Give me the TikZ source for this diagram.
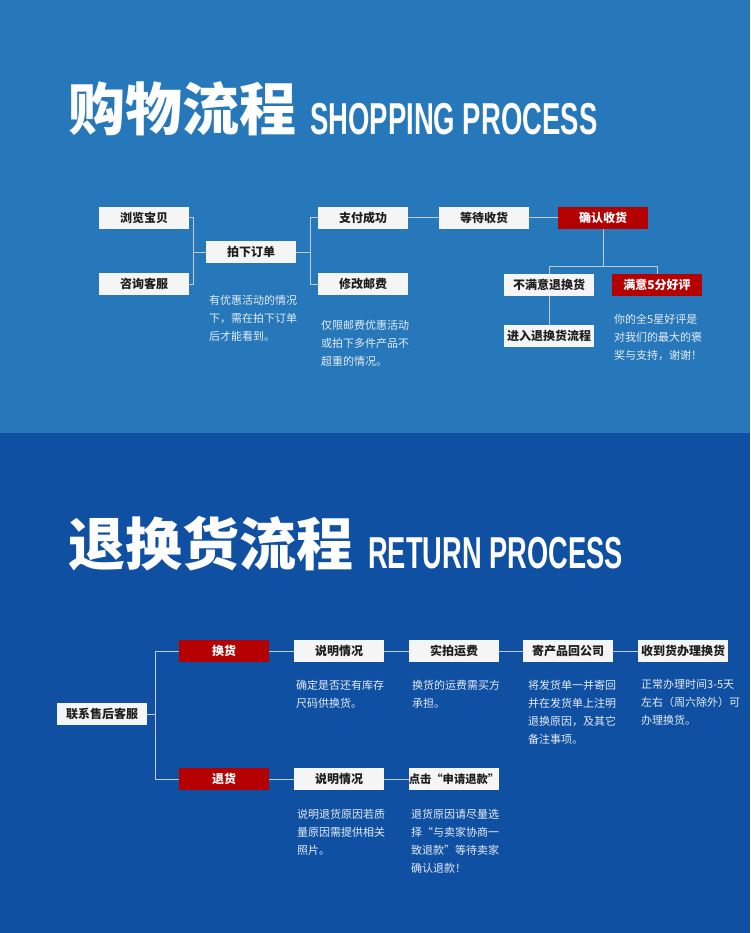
\documentclass[tikz,border=0pt]{standalone}
\usepackage{graphicx}
\usepackage{fontspec}
\newfontfamily\cjk{Noto Sans CJK SC}
\newfontfamily\lat{Liberation Sans}
\definecolor{topblue}{HTML}{2678BA}
\definecolor{botblue}{HTML}{1050A3}
\definecolor{boxw}{HTML}{F5F5F5}
\definecolor{boxred}{HTML}{B40000}
\definecolor{linegray}{HTML}{C4CAD2}
\definecolor{notecol}{HTML}{E6EDF5}
\begin{document}
\begin{tikzpicture}[x=1pt,y=-1pt,
  box/.style={fill=boxw, minimum width=90pt, minimum height=22pt, inner sep=0pt,
    font=\cjk\bfseries\fontsize{12}{12}\selectfont, text=black!88},
  redbox/.style={box, fill=boxred, text=white},
  conn/.style={draw=linegray, line width=1pt},
  note/.style={anchor=north west, align=left, inner sep=0pt, text=notecol,
    font=\cjk\fontsize{11}{18}\selectfont},
  cntitle/.style={anchor=base west, inner sep=0pt, text=white,
    font=\cjk\bfseries\fontsize{57}{57}\selectfont},
  entitle/.style={anchor=base west, inner sep=0pt, text=white,
    font=\lat\bfseries\fontsize{44.7}{44.7}\selectfont}]
\useasboundingbox (0,0) rectangle (750,933);
\fill[topblue] (0,0) rectangle (750,433);
\fill[botblue] (0,433) rectangle (750,933);

% titles
\node[cntitle] (t1) at (68,131) {购物流程};
\node[entitle] (e1) at (310,135) {\scalebox{0.615}[1]{SHOPPING PROCESS}};
\node[cntitle] (t2) at (68,565) {退换货流程};
\node[entitle] (e2) at (368,568) {\scalebox{0.61}[1]{RETURN PROCESS}};

% top flow
\node[box] (browse) at (144,218) {浏览宝贝};
\node[box] (consult) at (144,284) {咨询客服};
\node[box] (order) at (251,252) {拍下订单};
\node[box] (pay) at (363,218) {支付成功};
\node[box] (postage) at (363,284) {修改邮费};
\node[box] (wait) at (484,218) {等待收货};
\node[redbox] (confirm) at (603,218) {确认收货};
\node[box] (unsat) at (549,285) {不满意退换货};
\node[redbox] (sat) at (657,285) {满意5分好评};
\node[box] (enter) at (549,336) {进入退换货流程};

\draw[conn] (browse.east) -- ++(4.5,0) |- (order.west);
\draw[conn] (consult.east) -- ++(4.5,0) |- (order.west);
\draw[conn] (order.east) -- ++(14.5,0) |- (pay.west);
\draw[conn] (order.east) -- ++(14.5,0) |- (postage.west);
\draw[conn] (pay.east) -- (wait.west);
\draw[conn] (wait.east) -- (confirm.west);
\draw[conn] (confirm.south) -- ++(0,37) coordinate (split) -| (unsat.north);
\draw[conn] (split) -| (sat.north);
\draw[conn] (unsat.south) -- (enter.north);

\node[note] (n1) at (209,295.5) {有优惠活动的情况\\下，需在拍下订单\\后才能看到。};
\node[note] (n2) at (321,320.5) {仅限邮费优惠活动\\或拍下多件产品不\\超重的情况。};
\node[note] (n3) at (614,313.5) {你的全5星好评是\\对我们的最大的褒\\奖与支持，谢谢！};

% bottom flow
\node[box] (service) at (102,714) {联系售后客服};
\node[redbox] (exch) at (224,651) {换货};
\node[box] (exp1) at (339,651) {说明情况};
\node[box] (photo) at (454,651) {实拍运费};
\node[box] (send) at (568,651) {寄产品回公司};
\node[box] (recv) at (683,651) {收到货办理换货};
\node[redbox] (ret) at (224,779) {退货};
\node[box] (exp2) at (339,779) {说明情况};
\node[box, font=\cjk\bfseries\fontsize{11.3}{12}\selectfont] (click) at (454,779) {点击“申请退款”};

\draw[conn] (service.east) -- ++(8,0) coordinate (b) |- (exch.west);
\draw[conn] (b) |- (ret.west);
\draw[conn] (exch.east) -- (exp1.west);
\draw[conn] (exp1.east) -- (photo.west);
\draw[conn] (photo.east) -- (send.west);
\draw[conn] (send.east) -- (recv.west);
\draw[conn] (ret.east) -- (exp2.west);
\draw[conn] (exp2.east) -- (click.west);

\node[note] (m1) at (296,679.5) {确定是否还有库存\\尺码供换货。};
\node[note] (m2) at (412,679.5) {换货的运费需买方\\承担。};
\node[note] (m3) at (528,679.5) {将发货单一并寄回\\并在发货单上注明\\退换原因，及其它\\备注事项。};
\node[note] (m4) at (641,679.5) {正常办理时间3-5天\\左右（周六除外）可\\办理换货。};
\node[note] (m5) at (297,808.5) {说明退货原因若质\\量原因需提供相关\\照片。};
\node[note] (m6) at (411,808.5) {退货原因请尽量选\\择“与卖家协商一\\致退款”等待卖家\\确认退款！};
\end{tikzpicture}
\end{document}
